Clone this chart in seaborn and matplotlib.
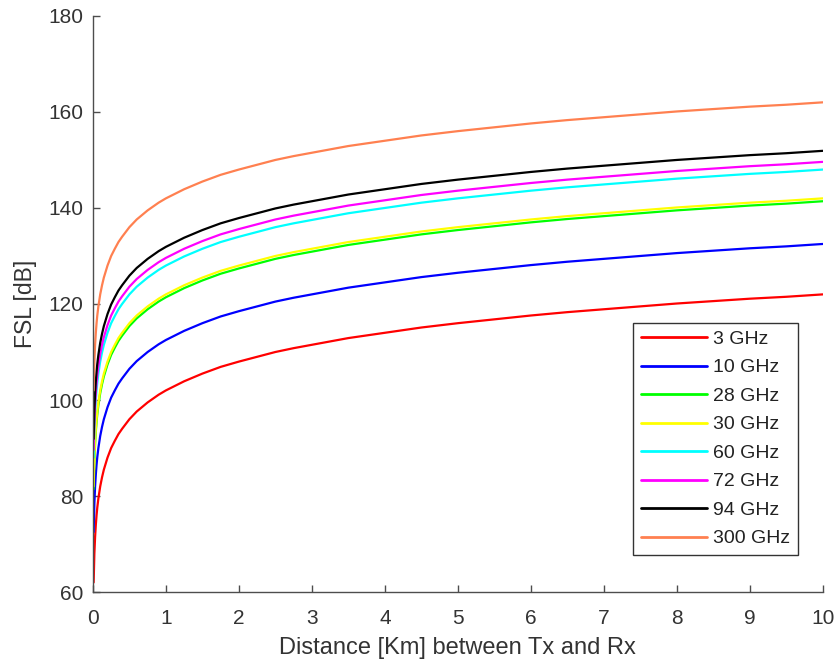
import numpy as np
import pandas as pd
import matplotlib
matplotlib.use("Agg")
import matplotlib.pyplot as plt
import seaborn as sns

# Distance samples [km]
distance = [0.01, 0.02, 0.03, 0.04, 0.05, 0.06, 0.075, 0.1, 0.125, 0.15,
            0.2, 0.25, 0.3, 0.35, 0.4, 0.5, 0.6, 0.75, 0.9, 1,
            1.25, 1.5, 1.75, 2, 2.25, 2.5, 2.75, 3, 3.5, 4,
            4.5, 5, 5.5, 6, 6.5, 7, 7.5, 8, 8.5, 9, 9.5, 10]

# FSL [dB] for each frequency
fsl_3 = [62.0, 68.0, 71.5, 74.0, 76.0, 77.6, 79.5, 82.0, 83.9, 85.5,
         88.0, 90.0, 91.5, 92.9, 94.0, 96.0, 97.6, 99.5, 101.1, 102.0,
         103.9, 105.5, 106.9, 108.0, 109.0, 110.0, 110.8, 111.5, 112.9, 114.0,
         115.1, 116.0, 116.8, 117.6, 118.3, 118.9, 119.5, 120.1, 120.6, 121.1, 121.5, 122.0]
fsl_10 = [72.5, 78.5, 82.0, 84.5, 86.5, 88.1, 90.0, 92.5, 94.4, 96.0,
          98.5, 100.5, 102.0, 103.4, 104.5, 106.5, 108.1, 110.0, 111.6, 112.5,
          114.4, 116.0, 117.4, 118.5, 119.5, 120.5, 121.3, 122.0, 123.4, 124.5,
          125.6, 126.5, 127.3, 128.1, 128.8, 129.4, 130.0, 130.6, 131.1, 131.6, 132.0, 132.5]
fsl_28 = [81.4, 87.4, 90.9, 93.4, 95.4, 97.0, 98.9, 101.4, 103.3, 104.9,
          107.4, 109.4, 110.9, 112.3, 113.4, 115.4, 117.0, 118.9, 120.5, 121.4,
          123.3, 124.9, 126.3, 127.4, 128.4, 129.4, 130.2, 130.9, 132.3, 133.4,
          134.5, 135.4, 136.2, 137.0, 137.7, 138.3, 138.9, 139.5, 140.0, 140.5, 140.9, 141.4]
fsl_30 = [82.0, 88.0, 91.5, 94.0, 96.0, 97.6, 99.5, 102.0, 103.9, 105.5,
          108.0, 110.0, 111.5, 112.9, 114.0, 116.0, 117.6, 119.5, 121.1, 122.0,
          123.9, 125.5, 126.9, 128.0, 129.0, 130.0, 130.8, 131.5, 132.9, 134.0,
          135.1, 136.0, 136.8, 137.6, 138.3, 138.9, 139.5, 140.1, 140.6, 141.1, 141.5, 142.0]
fsl_60 = [88.0, 94.0, 97.5, 100.0, 102.0, 103.6, 105.5, 108.0, 109.9, 111.5,
          114.0, 116.0, 117.5, 118.9, 120.0, 122.0, 123.6, 125.5, 127.1, 128.0,
          129.9, 131.5, 132.9, 134.0, 135.0, 136.0, 136.8, 137.5, 138.9, 140.0,
          141.1, 142.0, 142.8, 143.6, 144.3, 144.9, 145.5, 146.1, 146.6, 147.1, 147.5, 148.0]
fsl_72 = [89.6, 95.6, 99.1, 101.6, 103.6, 105.2, 107.1, 109.6, 111.5, 113.1,
          115.6, 117.6, 119.1, 120.5, 121.6, 123.6, 125.2, 127.1, 128.7, 129.6,
          131.5, 133.1, 134.5, 135.6, 136.6, 137.6, 138.4, 139.1, 140.5, 141.6,
          142.7, 143.6, 144.4, 145.2, 145.9, 146.5, 147.1, 147.7, 148.2, 148.7, 149.1, 149.6]
fsl_94 = [91.9, 97.9, 101.4, 103.9, 105.9, 107.5, 109.4, 111.9, 113.8, 115.4,
          117.9, 119.9, 121.4, 122.8, 123.9, 125.9, 127.5, 129.4, 131.0, 131.9,
          133.8, 135.4, 136.8, 137.9, 138.9, 139.9, 140.7, 141.4, 142.8, 143.9,
          145.0, 145.9, 146.7, 147.5, 148.2, 148.8, 149.4, 150.0, 150.5, 151.0, 151.4, 151.9]
fsl_300 = [102.0, 108.0, 111.5, 114.0, 116.0, 117.6, 119.5, 122.0, 123.9, 125.5,
           128.0, 130.0, 131.5, 132.9, 134.0, 136.0, 137.6, 139.5, 141.1, 142.0,
           143.9, 145.5, 146.9, 148.0, 149.0, 150.0, 150.8, 151.5, 152.9, 154.0,
           155.1, 156.0, 156.8, 157.6, 158.3, 158.9, 159.5, 160.1, 160.6, 161.1, 161.5, 162.0]

labels = ["3 GHz", "10 GHz", "28 GHz", "30 GHz", "60 GHz", "72 GHz", "94 GHz", "300 GHz"]
series = [fsl_3, fsl_10, fsl_28, fsl_30, fsl_60, fsl_72, fsl_94, fsl_300]
colors = ["#ff0000", "#0000ff", "#00ff00", "#ffff00", "#00ffff", "#ff00ff", "#000000", "#ff8050"]

rows = []
for lab, vals in zip(labels, series):
    for d, v in zip(distance, vals):
        rows.append({"Distance": d, "FSL": v, "Freq": lab})
df = pd.DataFrame(rows)

sns.set_style("ticks")
plt.rcParams["font.family"] = ["Liberation Sans", "DejaVu Sans"]
text_color = "#333333"

fig = plt.figure(figsize=(8.37, 6.63), dpi=100)
ax = fig.add_axes([0.111, 0.107, 0.872, 0.869])

sns.lineplot(data=df, x="Distance", y="FSL", hue="Freq", hue_order=labels,
             palette=dict(zip(labels, colors)), linewidth=1.6, ax=ax, sort=True,
             estimator=None)

ax.set_xlim(0, 10)
ax.set_ylim(60, 180)
ax.set_xticks(range(0, 11))
ax.set_yticks(range(60, 181, 20))
ax.tick_params(direction="in", length=5, width=1, colors="#4d4d4d",
               labelcolor=text_color, labelsize=15)
ax.tick_params(axis="y", pad=7)
ax.tick_params(axis="x", pad=12)
for s in ["top", "right"]:
    ax.spines[s].set_visible(False)
for s in ["left", "bottom"]:
    ax.spines[s].set_color("#4d4d4d")
    ax.spines[s].set_linewidth(1)

ax.set_xlabel("Distance [Km] between Tx and Rx", fontsize=17, color=text_color, labelpad=7)
ax.set_ylabel("FSL [dB]", fontsize=16.5, color=text_color, labelpad=8)

leg = ax.legend(loc="lower right", bbox_to_anchor=(0.966, 0.064), fontsize=14,
                frameon=True, fancybox=False, edgecolor="#333333", framealpha=1,
                handlelength=3.4, labelspacing=0.56, borderpad=0.4, handletextpad=0.3,
                borderaxespad=0)
leg.get_frame().set_linewidth(1)
for t in leg.get_texts():
    t.set_color("#222222")
for h in leg.get_lines():
    h.set_linewidth(2)

fig.savefig("out.png", dpi=100)
